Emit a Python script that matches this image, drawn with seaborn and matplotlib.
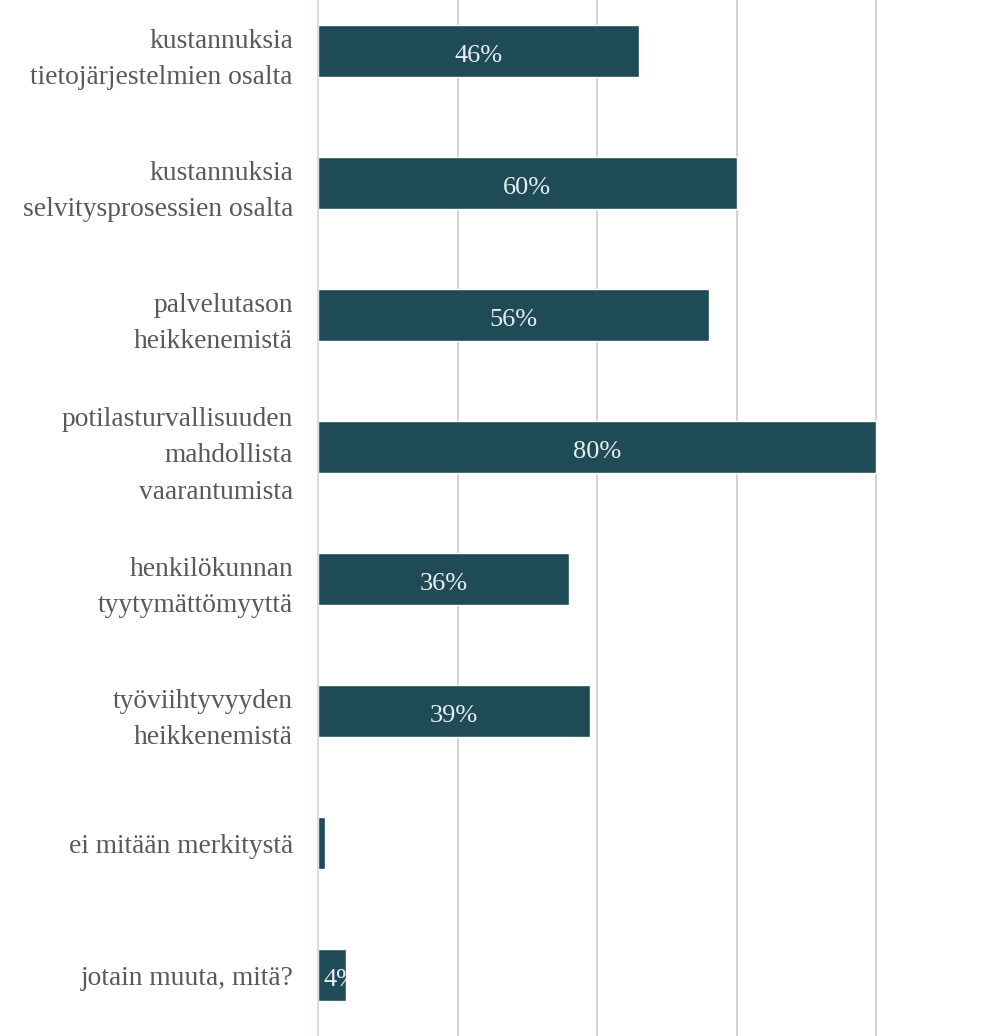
import matplotlib
matplotlib.use("Agg")
import matplotlib.pyplot as plt
import seaborn as sns
import pandas as pd

categories = [
    "kustannuksia\ntietojärjestelmien osalta",
    "kustannuksia\nselvitysprosessien osalta",
    "palvelutason\nheikkenemistä",
    "potilasturvallisuuden\nmahdollista\nvaarantumista",
    "henkilökunnan\ntyytymättömyyttä",
    "työviihtyvyyden\nheikkenemistä",
    "ei mitään merkitystä",
    "jotain muuta, mitä?",
]
values = [46, 60, 56, 80, 36, 39, 1, 4]
value_labels = ["46%", "60%", "56%", "80%", "36%", "39%", "1%", "4%"]

df = pd.DataFrame({"category": categories, "value": values})

sns.set_style("white")
plt.rcParams["font.family"] = ["Liberation Serif", "DejaVu Serif"]

fig = plt.figure(figsize=(10.07, 10.36), dpi=100)
ax = fig.add_axes([318 / 1007, 0, 1 - 318 / 1007, 1])

bar_color = "#1f4b57"
sns.barplot(data=df, x="value", y="category", color=bar_color, width=0.395,
            saturation=1, ax=ax, orient="h")

ax.set_xlim(0, (1007 - 318) / 6.975)
ax.set_ylim(7 + (1036 - 975) / 132, -51 / 132)
ax.set_xticks([20, 40, 60, 80])
ax.xaxis.grid(True, color="#cccccc", linewidth=1.2)
ax.set_axisbelow(True)
for s in ["top", "right", "bottom"]:
    ax.spines[s].set_visible(False)
ax.spines["left"].set_color("#c9d9ea")
ax.spines["left"].set_linewidth(1.2)

ax.set_xlabel("")
ax.set_ylabel("")
ax.tick_params(axis="x", length=0, labelbottom=False)
ax.tick_params(axis="y", length=0, pad=18, labelsize=19.8, labelcolor="#595959")
for t in ax.get_yticklabels():
    t.set_horizontalalignment("right")
    t.set_linespacing(1.6)

# value labels, clipped to the bars like in the original
for patch, lab in zip(ax.patches, value_labels):
    w = patch.get_width()
    yc = patch.get_y() + patch.get_height() / 2 + 0.035
    if w > 10:
        txt = ax.text(w / 2, yc, lab, ha="center", va="center",
                      color="#e8eef0", fontsize=19)
    else:
        txt = ax.text(0.85, yc, lab, ha="left", va="center",
                      color="#e8eef0", fontsize=19)
    txt.set_clip_on(True)
    txt.set_clip_path(patch)

fig.savefig("out.png", dpi=100)
